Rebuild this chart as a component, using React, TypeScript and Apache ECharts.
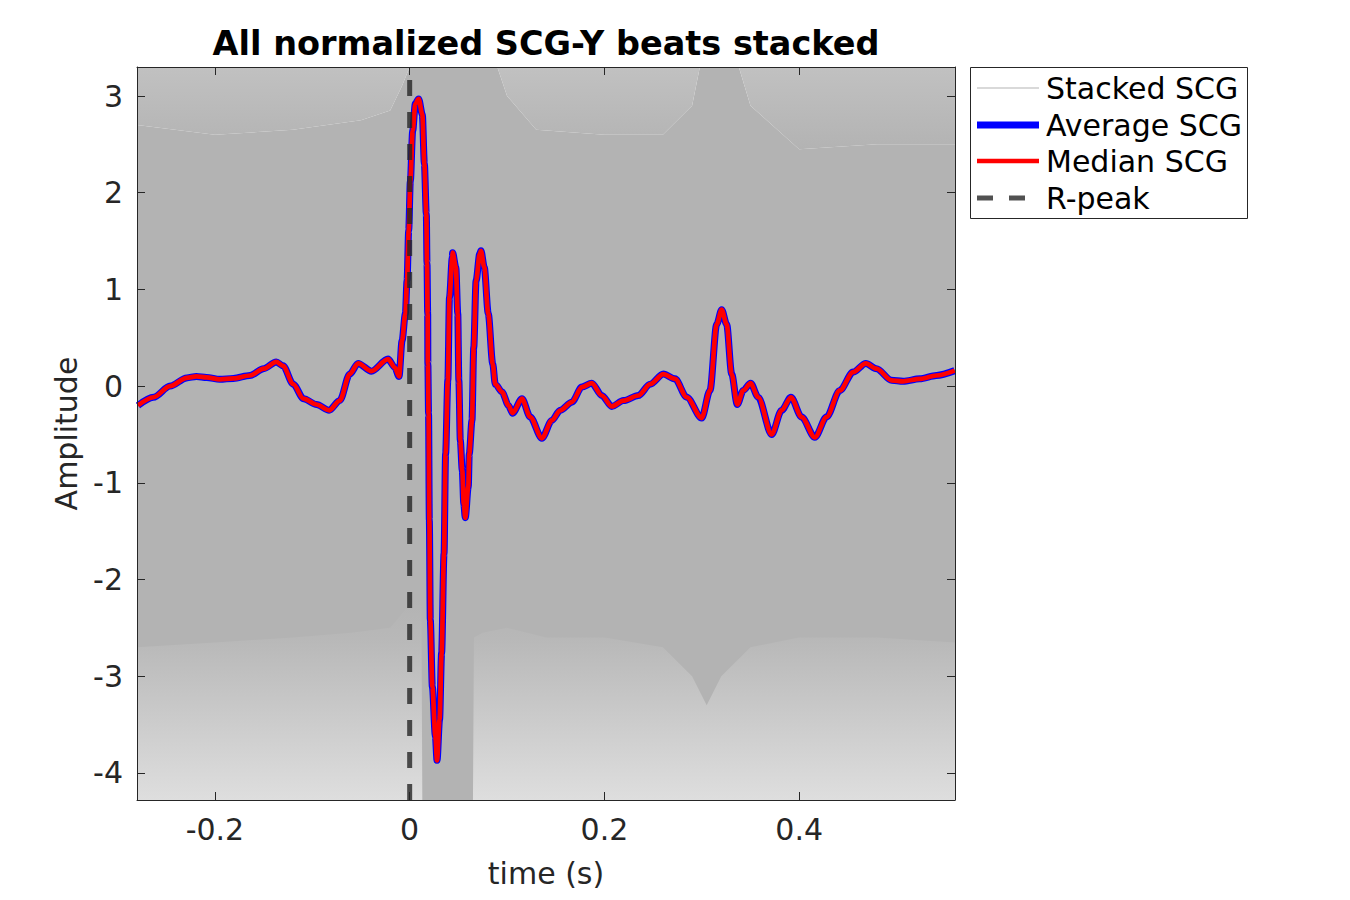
import { useEffect, useRef } from "react";
import * as echarts from "echarts";

const FONT = "DejaVu Sans";
const Y_MIN = -4.28;
const Y_MAX = 3.3;
const X_MIN = -0.28;
const X_MAX = 0.56;

// average beat (median lies on top of it)
const avgTime = [
  -0.279, -0.263, -0.246, -0.229, -0.219, -0.2085, -0.195, -0.181, -0.164, -0.15,
  -0.137, -0.13, -0.1196, -0.109, -0.0957, -0.0827, -0.0718, -0.0615, -0.053, -0.0393,
  -0.0222, -0.0154, -0.0109, -0.0078, -0.0044, -0.0027, -0.001, 0.0007, 0.0031, 0.0058,
  0.0092, 0.013, 0.0151, 0.0171, 0.0178, 0.0185, 0.0187, 0.0194, 0.0202, 0.0212,
  0.0233, 0.0264, 0.0281, 0.0307, 0.0328, 0.0353, 0.0369, 0.0392, 0.0409, 0.0438,
  0.0441, 0.0474, 0.0494, 0.0505, 0.052, 0.054, 0.0556, 0.0571, 0.0602, 0.0612,
  0.064, 0.0658, 0.0682, 0.072, 0.0732, 0.0766, 0.0807, 0.0853, 0.0879, 0.0948,
  0.1015, 0.1056, 0.1153, 0.1238, 0.1358, 0.146, 0.1546, 0.1666, 0.1768, 0.187,
  0.1973, 0.2076, 0.2195, 0.2349, 0.2469, 0.2605, 0.2725, 0.2845, 0.2999, 0.3084,
  0.3153, 0.3204, 0.3255, 0.3307, 0.3364, 0.3426, 0.3501, 0.3579, 0.3717, 0.382,
  0.3915, 0.4025, 0.4161, 0.4281, 0.4417, 0.4554, 0.4684, 0.4794, 0.4948, 0.5067,
  0.5238, 0.5409, 0.5597,
];
const avgAmp = [
  -0.2, -0.115, 0.0, 0.085, 0.1, 0.09, 0.07, 0.08, 0.11, 0.18,
  0.25, 0.21, 0.02, -0.13, -0.19, -0.25, -0.15, 0.125, 0.235, 0.155,
  0.28, 0.195, 0.1, 0.47, 0.75, 1.09, 1.61, 2.12, 2.64, 2.92,
  2.97, 2.81, 2.3, 1.78, 1.27, 0.75, 0.23, -0.29, -1.39, -2.42,
  -3.11, -3.62, -3.87, -3.45, -2.76, -1.73, -0.7, 0.06, 0.92, 1.33,
  1.38, 1.23, 0.75, 0.06, -0.56, -0.87, -1.22, -1.36, -1.04, -0.7,
  -0.355, 0.4, 1.09, 1.37, 1.4, 1.23, 0.75, 0.23, 0.02, -0.06,
  -0.2, -0.28, -0.13, -0.32, -0.54, -0.355, -0.25, -0.166, -0.01, 0.03,
  -0.097, -0.21, -0.15, -0.097, 0.02, 0.125, 0.075, -0.115, -0.33, -0.045,
  0.64, 0.79, 0.64, 0.125, -0.19, -0.045, 0.03, -0.115, -0.5, -0.25,
  -0.115, -0.32, -0.53, -0.32, -0.045, 0.145, 0.235, 0.18, 0.06, 0.05,
  0.075, 0.11, 0.16,
];
const medianAmp = avgAmp.slice();

// stacked beats: edge of the solid grey where the sparse traces start
const upperTime = [-0.28, -0.2, -0.12, -0.05, -0.02, -0.008, 0.0, 0.09, 0.1, 0.13, 0.2, 0.26, 0.29, 0.298, 0.338, 0.35, 0.4, 0.48, 0.56];
const upperEdge = [2.7, 2.6, 2.65, 2.75, 2.85, 3.1, 3.3, 3.3, 3.0, 2.65, 2.6, 2.6, 2.9, 3.3, 3.3, 2.9, 2.45, 2.5, 2.5];
const lowerTime = [-0.28, -0.2, -0.12, -0.06, -0.02, 0.005, 0.012, 0.013, 0.065, 0.066, 0.075, 0.1, 0.14, 0.2, 0.26, 0.29, 0.305, 0.32, 0.35, 0.4, 0.48, 0.56];
const lowerEdge = [-2.7, -2.65, -2.6, -2.55, -2.5, -2.2, -2.2, -4.28, -4.28, -2.6, -2.55, -2.5, -2.6, -2.6, -2.7, -3.0, -3.3, -3.0, -2.7, -2.6, -2.6, -2.65];

const rPeakTime = 0;

const legendItems = ["Stacked SCG", "Average SCG", "Median SCG", "R-peak"];

const pairs = (xs: number[], ys: number[]) => xs.map((x, i) => [x, ys[i]]);

export default function App() {
  const ref = useRef<HTMLDivElement | null>(null);

  useEffect(() => {
    if (!ref.current) return;
    const chart = echarts.init(ref.current, null, { renderer: "svg" });

    const axisCommon = {
      type: "value" as const,
      z: 5,
      axisLine: { show: true, onZero: false, lineStyle: { color: "#262626", width: 1 } },
      axisTick: { show: true, inside: true, length: 8, lineStyle: { color: "#262626" } },
      splitLine: { show: false },
    };

    const labelStyle = {
      fontSize: 30,
      color: "#262626",
      margin: 14,
      showMinLabel: false,
      showMaxLabel: false,
      fontFamily: FONT,
    };

    const legendY = [88, 125, 161, 198];

    chart.setOption({
      animation: false,
      textStyle: { fontFamily: FONT },
      grid: { left: 137, top: 67, width: 818, height: 733 },
      xAxis: [
        {
          ...axisCommon,
          min: X_MIN,
          max: X_MAX,
          splitNumber: 4,
          position: "bottom",
          name: "time (s)",
          nameLocation: "middle",
          nameGap: 58,
          nameTextStyle: { fontSize: 30, color: "#262626", fontFamily: FONT },
          axisLabel: labelStyle,
        },
        { ...axisCommon, min: X_MIN, max: X_MAX, splitNumber: 4, position: "top", axisLabel: { show: false } },
      ],
      yAxis: [
        {
          ...axisCommon,
          min: Y_MIN,
          max: Y_MAX,
          splitNumber: 8,
          position: "left",
          name: "Amplitude",
          nameLocation: "middle",
          nameGap: 56,
          nameTextStyle: { fontSize: 30, color: "#262626", fontFamily: FONT },
          axisLabel: labelStyle,
        },
        { ...axisCommon, min: Y_MIN, max: Y_MAX, splitNumber: 8, position: "right", axisLabel: { show: false } },
      ],
      series: [
        {
          name: "Stacked SCG",
          type: "line",
          data: pairs(upperTime, upperEdge),
          showSymbol: false,
          silent: true,
          lineStyle: { width: 0 },
          areaStyle: { color: "#b3b3b3", opacity: 1, origin: "start" },
        },
        {
          name: "Stacked SCG top",
          type: "line",
          data: pairs(upperTime, upperEdge),
          showSymbol: false,
          silent: true,
          lineStyle: { width: 0 },
          areaStyle: {
            opacity: 1,
            origin: "end",
            color: {
              type: "linear", x: 0, y: 0, x2: 0, y2: 1,
              colorStops: [
                { offset: 0, color: "#c1c1c1" },
                { offset: 1, color: "#b3b3b3" },
              ],
            },
          },
        },
        {
          name: "Stacked SCG bottom",
          type: "line",
          data: pairs(lowerTime, lowerEdge),
          showSymbol: false,
          silent: true,
          lineStyle: { width: 0 },
          areaStyle: {
            opacity: 1,
            origin: "start",
            color: {
              type: "linear", x: 0, y: 0, x2: 0, y2: 1,
              colorStops: [
                { offset: 0, color: "#b3b3b3" },
                { offset: 0.2, color: "#b8b8b8" },
                { offset: 1, color: "#dedede" },
              ],
            },
          },
        },
        {
          name: "Average SCG",
          type: "line",
          data: pairs(avgTime, avgAmp),
          showSymbol: false,
          smooth: 0.3,
          smoothMonotone: "x",
          z: 3,
          lineStyle: { color: "#0000ff", width: 7 },
        },
        {
          name: "Median SCG",
          type: "line",
          data: pairs(avgTime, medianAmp),
          showSymbol: false,
          smooth: 0.3,
          smoothMonotone: "x",
          z: 3,
          lineStyle: { color: "#ff0000", width: 4.7 },
        },
        {
          name: "R-peak",
          type: "line",
          data: [
            [rPeakTime, Y_MIN],
            [rPeakTime, Y_MAX],
          ],
          showSymbol: false,
          z: 4,
          lineStyle: { color: "rgba(38,38,38,0.8)", width: 5, type: [16, 16] },
        },
      ],
      graphic: [
        {
          type: "text",
          x: 546,
          y: 43,
          style: {
            text: "All normalized SCG-Y beats stacked",
            align: "center",
            verticalAlign: "middle",
            font: `bold 33.5px "${FONT}"`,
            fill: "#000",
          },
        },
        {
          type: "rect",
          shape: { x: 970.5, y: 67.5, width: 277, height: 151 },
          style: { fill: "#fff", stroke: "#262626", lineWidth: 1 },
        },
        {
          type: "line",
          shape: { x1: 977, y1: legendY[0], x2: 1039, y2: legendY[0] },
          style: { stroke: "#b3b3b3", lineWidth: 1 },
        },
        {
          type: "line",
          shape: { x1: 977, y1: legendY[1], x2: 1039, y2: legendY[1] },
          style: { stroke: "#0000ff", lineWidth: 7 },
        },
        {
          type: "line",
          shape: { x1: 977, y1: legendY[2], x2: 1039, y2: legendY[2] },
          style: { stroke: "#ff0000", lineWidth: 4.7 },
        },
        {
          type: "line",
          shape: { x1: 977, y1: legendY[3], x2: 1039, y2: legendY[3] },
          style: { stroke: "rgba(38,38,38,0.8)", lineWidth: 5, lineDash: [16, 16] },
        },
        ...legendItems.map((label, i) => ({
          type: "text",
          x: 1046,
          y: legendY[i],
          style: {
            text: label,
            align: "left",
            verticalAlign: "middle",
            font: `30px "${FONT}"`,
            fill: "#000",
          },
        })),
      ],
    });

    return () => chart.dispose();
  }, []);

  return (
    <div
      ref={ref}
      style={{ position: "fixed", left: 0, top: 0, width: 1350, height: 900, background: "#fff" }}
    />
  );
}
